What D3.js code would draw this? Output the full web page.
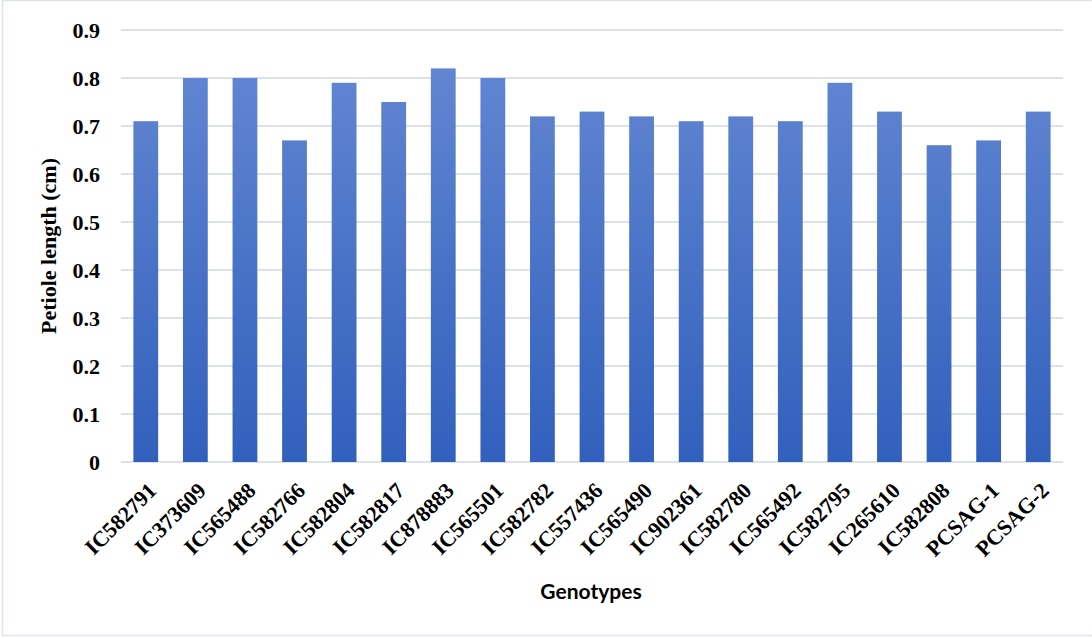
<!DOCTYPE html>
<html>
<head>
<meta charset="utf-8">
<script src="https://cdn.jsdelivr.net/npm/d3@7"></script>
<style>
  html, body { margin: 0; padding: 0; background: #fff; }
  svg { display: block; }
</style>
</head>
<body>
<svg id="chart" width="1092" height="638"></svg>
<script>
// Petiole length per genotype
const genotypes = ["IC582791", "IC373609", "IC565488", "IC582766", "IC582804", "IC582817",
  "IC878883", "IC565501", "IC582782", "IC557436", "IC565490", "IC902361", "IC582780",
  "IC565492", "IC582795", "IC265610", "IC582808", "PCSAG-1", "PCSAG-2"];
const petioleLength = [0.71, 0.80, 0.80, 0.67, 0.79, 0.75, 0.82, 0.80, 0.72, 0.73,
  0.72, 0.71, 0.72, 0.71, 0.79, 0.73, 0.66, 0.67, 0.73];
const yTicks = [0, 0.1, 0.2, 0.3, 0.4, 0.5, 0.6, 0.7, 0.8, 0.9];

const svg = d3.select("#chart");
const margin = { left: 121, right: 29, top: 30, bottom: 176 };
const W = 1092, H = 638;
const iw = W - margin.left - margin.right;
const ih = H - margin.top - margin.bottom;
const serif = "'Liberation Serif', 'Times New Roman', serif";

// outer frame
svg.append("rect")
  .attr("x", 2.5).attr("y", 0.5)
  .attr("width", W + 10).attr("height", 635)
  .attr("fill", "none").attr("stroke", "#dfe3ea").attr("stroke-width", 1.5);

const defs = svg.append("defs");
const grad = defs.append("linearGradient")
  .attr("id", "barFill")
  .attr("gradientUnits", "userSpaceOnUse")
  .attr("x1", 0).attr("x2", 0)
  .attr("y1", margin.top).attr("y2", margin.top + ih);
grad.append("stop").attr("offset", "0%").attr("stop-color", "#6286d2");
grad.append("stop").attr("offset", "100%").attr("stop-color", "#2e5dbb");

const g = svg.append("g").attr("transform", `translate(${margin.left},${margin.top})`);

const x = d3.scaleBand().domain(genotypes).range([0, iw]).paddingInner(0.5).paddingOuter(0.25);
const y = d3.scaleLinear().domain([0, 0.9]).range([ih, 0]);

// gridlines
g.append("g")
  .selectAll("line")
  .data(yTicks)
  .join("line")
  .attr("x1", 0).attr("x2", iw)
  .attr("y1", d => y(d)).attr("y2", d => y(d))
  .attr("stroke", "#dde1e8").attr("stroke-width", 2);

// y axis tick labels
const yAxis = d3.axisLeft(y).tickValues(yTicks).tickSize(0).tickPadding(21)
  .tickFormat(d => d === 0 ? "0" : d3.format(".1f")(d));
g.append("g").call(yAxis)
  .call(a => a.select(".domain").remove())
  .selectAll("text")
  .attr("font-family", serif)
  .attr("font-weight", "bold")
  .attr("font-size", 22)
  .attr("fill", "#000")
  .attr("dy", "0.35em");

// bars
g.append("g")
  .selectAll("rect")
  .data(genotypes)
  .join("rect")
  .attr("x", d => x(d))
  .attr("width", x.bandwidth())
  .attr("y", (d, i) => y(petioleLength[i]))
  .attr("height", (d, i) => y(0) - y(petioleLength[i]))
  .attr("fill", "url(#barFill)");

// x axis labels
const xAxis = d3.axisBottom(x).tickSize(0).tickPadding(0);
g.append("g").attr("transform", `translate(0,${ih})`).call(xAxis)
  .call(a => a.select(".domain").remove())
  .selectAll("text")
  .attr("font-family", serif)
  .attr("font-weight", "bold")
  .attr("font-size", 22)
  .attr("fill", "#000")
  .attr("text-anchor", "end")
  .attr("dy", null)
  .attr("transform", "translate(12,30) rotate(-45)");

// axis titles
svg.append("text")
  .attr("transform", `translate(56,${margin.top + ih / 2}) rotate(-90)`)
  .attr("text-anchor", "middle")
  .attr("font-family", serif)
  .attr("font-weight", "bold")
  .attr("font-size", 22)
  .text("Petiole length (cm)");

svg.append("text")
  .attr("x", 591).attr("y", 599)
  .attr("text-anchor", "middle")
  .attr("font-family", "Lato, 'Open Sans', 'Liberation Sans', sans-serif")
  .attr("font-weight", "bold")
  .attr("font-size", 21)
  .text("Genotypes");
</script>
</body>
</html>
